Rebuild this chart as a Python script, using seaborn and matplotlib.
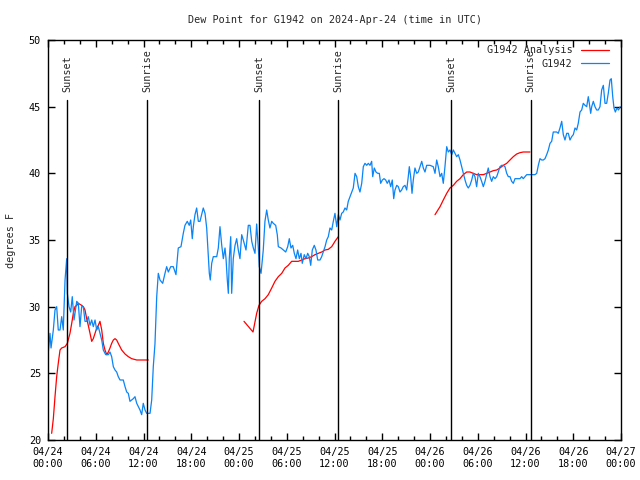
import matplotlib
matplotlib.use("Agg")
import matplotlib.pyplot as plt
import matplotlib.dates as mdates
from matplotlib.lines import Line2D
import seaborn as sns
import pandas as pd

# hours after 2024-04-24 00:00 UTC and dew point (F) for station G1942
blue_hours = [0.04, 0.25, 0.38, 0.67, 0.88, 1.09, 1.29, 1.51, 1.72, 1.92, 2.14, 2.35, 2.43, 2.64, 2.85,
              3.05, 3.27, 3.61, 3.81, 4.02, 4.23, 4.44, 4.65, 4.86, 5.06, 5.28, 5.49, 5.69, 5.91, 6.12,
              6.32, 6.53, 6.75, 6.95, 7.25, 7.58, 7.79, 8.00, 8.21, 8.42, 8.63, 8.83, 9.05, 9.46, 9.68,
              9.89, 10.09, 10.30, 10.52, 10.72, 10.93, 11.15, 11.35, 11.56, 11.77, 11.97, 12.19, 12.40,
              12.82, 13.03, 13.23, 13.44, 13.66, 13.86, 14.07, 14.41, 14.70, 14.91, 15.12, 15.42, 15.74,
              16.08, 16.37, 16.71, 17.00, 17.21, 17.50, 17.75, 17.93, 18.13, 18.26, 18.47, 18.68, 18.89,
              19.10, 19.31, 19.51, 19.73, 19.94, 20.14, 20.27, 20.39, 20.57, 20.77, 21.20, 21.40, 21.61,
              21.83, 22.03, 22.24, 22.37, 22.53, 22.66, 22.78, 22.96, 23.08, 23.28, 23.50, 23.71, 23.91,
              24.12, 24.34, 24.54, 24.88, 25.17, 25.38, 25.60, 25.80, 26.01, 26.22, 26.42, 26.55, 26.77,
              27.05, 27.26, 27.48, 27.68, 27.89, 28.11, 28.31, 28.61, 28.81, 28.94, 29.28, 29.57, 29.87,
              30.12, 30.32, 30.53, 30.75, 30.95, 31.16, 31.37, 31.58, 31.79, 31.95, 32.20, 32.42, 32.63,
              32.83, 33.01, 33.21, 33.46, 33.67, 33.89, 34.18, 34.39, 34.59, 34.81, 35.02, 35.22, 35.43,
              35.65, 35.85, 36.06, 36.28, 36.48, 36.69, 36.90, 37.10, 37.32, 37.53, 37.73, 37.95, 38.16,
              38.36, 38.58, 38.79, 38.99, 39.20, 39.42, 39.62, 39.83, 40.05, 40.25, 40.46, 40.67, 40.80,
              41.00, 41.21, 41.43, 41.63, 41.80, 42.01, 42.22, 42.43, 42.63, 42.85, 43.06, 43.26, 43.44,
              43.60, 43.82, 44.02, 44.23, 44.44, 44.64, 44.86, 45.07, 45.27, 45.40, 45.57, 45.74, 45.90,
              46.11, 46.33, 46.53, 46.74, 46.96, 47.16, 47.37, 47.58, 48.00, 48.41, 48.63, 48.84, 49.04,
              49.26, 49.47, 49.67, 49.88, 50.10, 50.30, 50.51, 50.73, 50.93, 51.14, 51.35, 51.56, 51.77,
              51.98, 52.18, 52.40, 52.61, 52.81, 53.02, 53.24, 53.44, 53.65, 53.86, 54.07, 54.28, 54.49,
              54.70, 54.91, 55.12, 55.32, 55.54, 55.75, 55.95, 56.17, 56.38, 56.58, 56.79, 57.01, 57.21,
              57.42, 57.64, 57.84, 58.05, 58.26, 58.47, 58.68, 59.31, 59.52, 59.72, 59.94, 60.15, 60.98,
              61.19, 61.41, 61.61, 61.82, 62.04, 62.24, 62.45, 62.66, 62.87, 63.08, 63.29, 63.49, 63.92,
              64.12, 64.33, 64.55, 64.75, 64.96, 65.18, 65.38, 65.59, 65.80, 66.01, 66.22, 66.43, 66.63,
              66.85, 67.06, 67.26, 67.48, 67.69, 67.89, 68.02, 68.19, 68.32, 68.52, 68.73, 68.94, 69.15,
              69.36, 69.57, 69.78, 69.99, 70.20, 70.40, 70.62, 70.78, 70.96, 71.12, 71.29, 71.49, 71.69,
              71.90]
blue_dewpt = [26.6, 28.0, 26.9, 28.25, 29.75, 30.0, 28.25, 28.25, 29.25, 28.25, 32.0, 33.6, 31.0, 30.0, 29.6,
              30.75, 29.0, 30.4, 30.25, 28.5, 30.0, 30.0, 28.9, 28.9, 29.25, 28.6, 29.0, 28.5, 29.0, 28.25,
              28.5, 28.0, 27.5, 26.75, 26.4, 26.4, 26.6, 26.25, 25.5, 25.25, 25.1, 24.75, 24.5, 24.5, 24.0,
              23.6, 23.5, 22.9, 23.0, 23.1, 23.25, 22.75, 22.5, 22.25, 21.9, 22.75, 22.25, 22.0,
              22.0, 23.0, 25.5, 27.2, 30.75, 32.5, 32.0, 31.75, 32.5, 33.0, 32.6, 33.0, 33.0,
              32.4, 34.4, 34.5, 35.5, 36.1, 36.4, 36.1, 36.5, 35.1, 36.0, 36.9, 37.4, 36.4,
              36.4, 36.9, 37.4, 37.0, 35.9, 33.75, 32.5, 32.0, 33.25, 33.75, 33.75, 34.4, 36.0,
              34.6, 33.6, 34.4, 33.6, 32.0, 31.0, 33.6, 35.25, 31.0, 33.6, 34.6, 35.1, 34.25,
              33.6, 35.4, 35.0, 34.25, 36.1, 36.1, 34.9, 34.4, 34.0, 36.2, 34.5, 33.0, 32.5,
              34.25, 36.4, 37.25, 36.5, 35.9, 36.4, 36.25, 36.1, 35.4, 34.5, 34.4, 34.25, 34.1,
              34.5, 35.1, 34.4, 34.6, 34.0, 33.6, 34.25, 33.6, 34.0, 33.25, 33.9, 33.6, 34.0,
              33.75, 33.1, 34.25, 34.6, 34.25, 33.5, 33.5, 33.75, 34.1, 34.5, 35.0, 35.25, 35.9,
              35.75, 36.4, 37.0, 36.0, 36.9, 36.5, 37.0, 37.1, 37.4, 37.25, 37.9, 38.25, 38.6,
              38.9, 40.0, 39.75, 39.0, 38.6, 39.25, 40.5, 40.75, 40.6, 40.75, 40.6, 40.9, 39.75,
              40.4, 40.1, 40.0, 40.0, 39.25, 39.5, 39.6, 39.5, 39.25, 39.5, 39.0, 39.5, 38.1,
              38.75, 39.1, 39.0, 38.6, 38.75, 39.0, 39.1, 38.75, 39.75, 40.5, 39.75, 38.5, 39.5,
              40.4, 40.0, 40.1, 40.5, 40.9, 40.4, 40.1, 40.6, 40.6, 40.5, 40.0, 41.0, 40.5,
              39.75, 40.0, 39.25, 40.5, 42.0, 41.6, 41.75, 41.4, 41.75, 41.5, 41.25, 41.4, 41.0,
              40.5, 40.0, 39.5, 39.1, 38.9, 39.1, 39.5, 40.0, 39.75, 39.0, 40.0, 39.75, 39.4,
              39.0, 39.4, 39.9, 40.4, 39.75, 39.4, 39.75, 39.6, 39.75, 40.1, 40.5, 40.6, 40.6,
              40.5, 40.0, 39.75, 39.75, 39.4, 39.25, 39.6, 39.6, 39.75, 39.6, 39.75, 39.9, 39.9,
              39.9, 40.0, 40.6, 41.1, 41.0, 41.0, 41.1, 41.4, 41.75, 42.25, 42.4, 43.1, 43.1,
              43.0, 43.4, 43.9, 42.9, 42.5, 43.0, 43.0, 42.5, 42.75, 42.9, 43.4, 43.25, 43.75,
              44.6, 44.75, 45.25, 45.1, 45.0, 45.75, 45.25, 44.5, 45.0, 45.4, 45.0, 44.75, 44.75,
              45.0, 46.25, 46.6, 45.25, 45.25, 46.0, 47.0, 47.1, 45.75, 44.9, 44.6, 44.9, 44.75,
              45.0]

# analysis curve, three separate pieces
red_hours = [0.46, 0.67, 0.88, 1.09, 1.29, 1.51, 1.72, 2.14, 2.43, 2.76, 2.98, 3.18, 3.39, 3.61, 3.81,
             4.23, 4.44, 4.65, 4.86, 5.06, 5.28, 5.49, 5.69, 5.91, 6.12, 6.32, 6.53, 6.75, 6.95, 7.16,
             7.38, 7.58, 7.79, 8.00, 8.21, 8.42, 8.63, 8.83, 9.26, 9.68, 10.09, 10.52, 11.15, 11.77, 12.60,
             24.63, 25.76, 26.22, 26.51, 26.85, 27.27, 27.68, 28.11, 28.52, 28.94, 29.37, 29.78, 30.19,
             30.62, 31.04, 31.45, 31.88, 32.29, 32.71, 33.13, 33.55, 33.96, 34.39, 34.81, 35.22, 35.65,
             36.06, 36.48,
             48.63, 48.84, 49.26, 49.67, 50.10, 50.51, 50.93, 51.35, 51.77, 52.18, 52.61, 53.02, 53.44,
             53.86, 54.28, 54.70, 55.12, 55.54, 55.95, 56.38, 56.79, 57.21, 57.64, 58.05, 58.47, 58.89,
             59.31, 59.72, 60.56]
red_dewpt = [20.5, 21.6, 23.25, 24.75, 25.75, 26.75, 26.9, 27.0, 27.25, 28.0, 28.75, 29.5, 30.0, 30.1, 30.25,
             30.1, 30.0, 29.75, 29.1, 28.6, 28.0, 27.4, 27.6, 28.0, 28.4, 28.6, 28.9, 28.25, 27.25, 26.75,
             26.4, 26.6, 26.9, 27.25, 27.5, 27.6, 27.5, 27.25, 26.75, 26.45, 26.25, 26.1, 26.0, 26.0, 26.0,
             28.9, 28.1, 29.5, 30.1, 30.4, 30.6, 30.9, 31.4, 31.9, 32.25, 32.5, 32.9, 33.1,
             33.4, 33.4, 33.4, 33.5, 33.6, 33.65, 33.75, 33.9, 34.0, 34.1, 34.25, 34.3, 34.5,
             34.9, 35.25,
             36.9, 37.1, 37.5, 38.0, 38.5, 38.9, 39.1, 39.4, 39.6, 39.9, 40.1, 40.1, 40.0,
             39.9, 39.9, 39.9, 40.0, 40.1, 40.2, 40.25, 40.4, 40.6, 40.75, 41.0, 41.25, 41.45,
             41.55, 41.6, 41.6]
red_piece = [1] * 45 + [2] * 28 + [3] * 29

sunset_hours = [2.43, 26.55, 50.65]
sunrise_hours = [12.48, 36.48, 60.63]

start = pd.Timestamp("2024-04-24 00:00")
FS = 7.3
RED = "#ff0000"
BLUE = "#0a84f6"

sns.set_style("ticks")
plt.rcParams["font.family"] = ["DejaVu Sans Mono"]
plt.rcParams["font.size"] = FS

obs = pd.DataFrame({"time": start + pd.to_timedelta(blue_hours, unit="h"), "dewpt": blue_dewpt})
ana = pd.DataFrame({"time": start + pd.to_timedelta(red_hours, unit="h"), "dewpt": red_dewpt,
                    "piece": red_piece})

fig = plt.figure(figsize=(6.4, 4.8), dpi=100)
ax = fig.add_axes([48 / 640, 40 / 480, 573 / 640, 400 / 480])

# one line per analysis piece, no legend from seaborn
sns.lineplot(data=ana, x="time", y="dewpt", units="piece", estimator=None,
             color=RED, lw=0.9, ax=ax, legend=False)
sns.lineplot(data=obs, x="time", y="dewpt", color=BLUE, lw=0.9, ax=ax, legend=False)

# sunset / sunrise markers
for hrs, name in [(sunset_hours, "Sunset"), (sunrise_hours, "Sunrise")]:
    for h in hrs:
        t = start + pd.Timedelta(hours=h)
        ax.plot([t, t], [20, 45.5], color="black", lw=1)
        ax.text(t, 46.1, name, rotation=90, ha="center", va="bottom", fontsize=FS)

ax.set_xlim(start, start + pd.Timedelta(days=3))
ax.set_ylim(20, 50)
ax.set_yticks(range(20, 51, 5))
ax.xaxis.set_major_locator(mdates.HourLocator(byhour=[0, 6, 12, 18]))
ax.xaxis.set_minor_locator(mdates.HourLocator(interval=2))
ax.xaxis.set_major_formatter(mdates.DateFormatter("%m/%d\n%H:%M"))

ax.tick_params(which="both", direction="in", top=True, right=True, colors="black",
               labelsize=FS, pad=5)
ax.tick_params(which="major", length=5, width=1)
ax.tick_params(which="minor", length=3, width=1)
for s in ax.spines.values():
    s.set_color("black")
    s.set_linewidth(1)

ax.set_xlabel("")
ax.set_ylabel("degrees F", fontsize=FS, labelpad=9)
ax.set_title("Dew Point for G1942 on 2024-Apr-24 (time in UTC)", fontsize=FS, pad=12)

handles = [Line2D([], [], color=RED, lw=0.9), Line2D([], [], color=BLUE, lw=0.9)]
ax.legend(handles, ["G1942 Analysis", "G1942"], loc="upper right",
          bbox_to_anchor=(0.9895, 1.0025), frameon=False,
          markerfirst=False, fontsize=FS, handlelength=2.8, labelspacing=0.35,
          borderaxespad=0.2, handletextpad=0.8)

fig.savefig("out.png", dpi=100)
